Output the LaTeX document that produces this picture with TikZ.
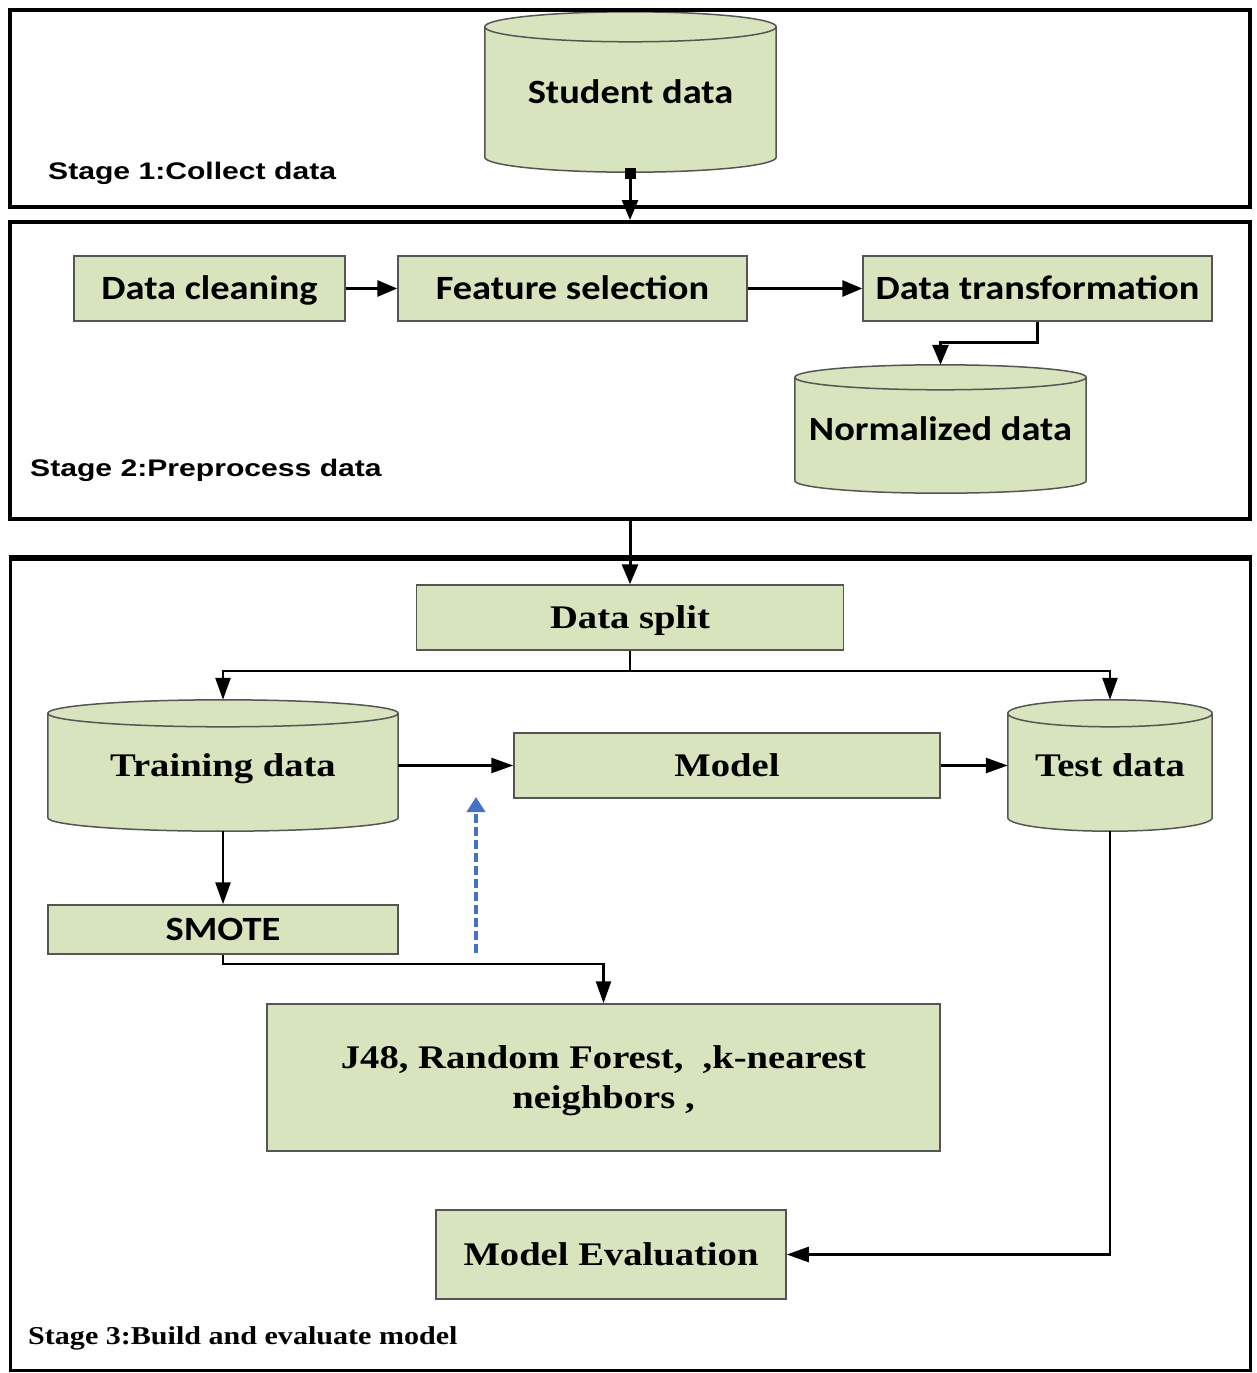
\documentclass[tikz,border=0pt]{standalone}
\usepackage{fontspec}
\usetikzlibrary{arrows.meta,calc,backgrounds}
\newfontfamily\calb[FakeStretch=1.13]{Carlito}
\newfontfamily\arb[FakeStretch=1.255]{Liberation Sans}
\newfontfamily\tnr[FakeStretch=1.17]{Liberation Serif}
\definecolor{boxfill}{RGB}{215,228,189}
\definecolor{boxline}{RGB}{85,85,85}
\definecolor{dashblue}{RGB}{68,114,196}
\newcommand\cylshape[2]{%
  \path[cylbody] let \p1=(#1.north west), \p2=(#1.south east), \n1={(\x2-\x1)/2} in
    (\x1,\y1-#2pt) -- (\x1,\y2+#2pt) arc[start angle=180,end angle=360,x radius={\n1*1pt},y radius=#2pt]
    -- (\x2,\y1-#2pt) arc[start angle=0,end angle=180,x radius={\n1*1pt},y radius=#2pt] -- cycle
    (\x1,\y1-#2pt) arc[start angle=180,end angle=360,x radius={\n1*1pt},y radius=#2pt];
}
\begin{document}
\begin{tikzpicture}[x=1pt,y=-1pt,
  frame/.style={draw=black,line width=4pt,inner sep=0pt,minimum width=1240pt},
  stagelabel/.style={anchor=base west,inner sep=0pt,font=\arb\bfseries\fontsize{24}{28}\selectfont},
  stagelabelt/.style={anchor=base west,inner sep=0pt,font=\tnr\bfseries\fontsize{25.7}{30}\selectfont},
  calbox/.style={draw=boxline,fill=boxfill,line width=1.5pt,inner sep=0pt,
    font=\calb\bfseries\fontsize{34}{40}\selectfont,text height=22pt,text depth=0pt},
  tnrbox/.style={draw=boxline,fill=boxfill,line width=1.5pt,inner sep=0pt,
    font=\tnr\bfseries\fontsize{33}{40}\selectfont,text height=22pt,text depth=0pt},
  calcyl/.style={inner sep=0pt,font=\calb\bfseries\fontsize{34}{40}\selectfont,text height=22pt,text depth=0pt},
  tnrcyl/.style={inner sep=0pt,font=\tnr\bfseries\fontsize{33}{40}\selectfont,text height=22pt,text depth=0pt},
  cylbody/.style={draw=boxline,fill=boxfill,line width=1.5pt},
  arrA/.style={draw=black,line width=3pt,-{Triangle[length=20pt,width=16pt]}},
  arrB/.style={draw=black,line width=2.5pt,-{Triangle[length=22pt,width=15pt]}},
  bluearr/.style={draw=dashblue,line width=4.5pt,dash pattern=on 9pt off 4pt,-{Triangle[length=15pt,width=18pt]}}
]
\useasboundingbox (0,0) rectangle (1257,1373);
% stage frames
\node[frame,minimum height=197pt] (s1) at (630,108.5) {};
\node[frame,minimum height=297pt] (s2) at (630,370.5) {};
\node[draw=black,line width=3pt,inner sep=0pt,minimum width=1240pt,minimum height=811pt] (s3) at (630,964.5) {};
\draw[line width=4.5pt] (s3.north west) -- (s3.north east);
% stage labels
\node[stagelabel] (l1) at (48,179.5) {Stage 1:Collect data};
\node[stagelabel] (l2) at (30,476.5) {Stage 2:Preprocess data};
\node[stagelabelt] (l3) at (28,1344.5) {Stage 3:Build and evaluate model};
% stage 1
\node[calcyl,minimum width=291pt,minimum height=160pt] (sd) at (630.5,92) {Student data};
\node[fill=black,minimum size=11pt,inner sep=0pt] (sq) at (630,173) {};
% stage 2
\node[calbox,minimum width=271pt,minimum height=65pt] (dc) at (209.5,288.5) {Data cleaning};
\node[calbox,minimum width=349pt,minimum height=65pt] (fs) at (572.5,288.5) {Feature selection};
\node[calbox,minimum width=349pt,minimum height=65pt] (dt) at (1037.5,288.5) {Data transformation};
\node[calcyl,minimum width=291pt,minimum height=128pt] (nd) at (940.5,429) {Normalized data};
% stage 3
\node[tnrbox,minimum width=427pt,minimum height=65pt] (ds) at (630,617.5) {Data split};
\node[tnrcyl,minimum width=350pt,minimum height=131pt] (td) at (223,765.5) {Training data};
\node[tnrcyl,minimum width=204pt,minimum height=131pt] (te) at (1110,765.5) {Test data};
\node[tnrbox,minimum width=426pt,minimum height=65pt] (md) at (727,765.5) {Model};
\node[calbox,minimum width=350pt,minimum height=49pt] (sm) at (223,929.5) {SMOTE};
\node[draw=boxline,fill=boxfill,line width=1.5pt,inner sep=0pt,align=center,
  font=\tnr\bfseries\fontsize{33}{40}\selectfont,minimum width=673pt,minimum height=147pt,
  text depth=0pt]
  (al) at (603.5,1077.5) {J48, Random Forest,~~,k-nearest\\neighbors ,};
\node[tnrbox,minimum width=350pt,minimum height=89pt] (ev) at (611,1254.5) {Model Evaluation};
% cylinders
\begin{scope}[on background layer]
\cylshape{sd}{15}
\cylshape{nd}{12.5}
\cylshape{td}{13.5}
\cylshape{te}{13.5}
\end{scope}
% connectors
\draw[arrA] (sq.center) -- (s2.north);
\draw[arrA] (dc.east) -- (fs.west);
\draw[arrA] (fs.east) -- (dt.west);
\draw[arrA] (dt.south) -- ++(0,21) -| (nd.north);
\draw[arrA] (s2.south) -- (ds.north);
\draw[arrB] (ds.south) -- ++(0,20) -| (td.north);
\draw[arrB] (ds.south) -- ++(0,20) -| (te.north);
\draw[arrB] (td.east) -- (md.west);
\draw[arrB] (md.east) -- (te.west);
\draw[arrB] (td.south) -- (sm.north);
\draw[arrB] (sm.south) -- ++(0,9) -| (al.north);
\draw[arrB] (te.south) |- (ev.east);
\coordinate (bd1) at (476,953);
\coordinate (bd2) at (476,797);
\draw[bluearr] (bd1) -- (bd2);
\end{tikzpicture}
\end{document}
